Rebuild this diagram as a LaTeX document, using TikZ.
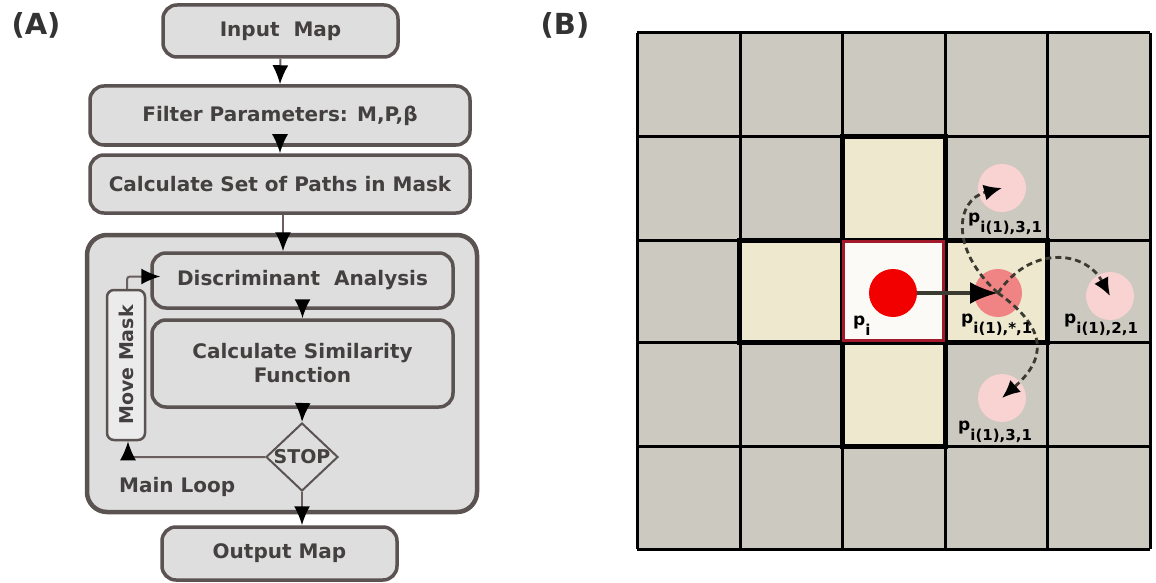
\documentclass[tikz,border=0pt]{standalone}
\usepackage{fontspec}
\setmainfont{DejaVu Sans}
\usetikzlibrary{arrows.meta,shapes.geometric,calc}
\definecolor{boxfill}{HTML}{DEDEDE}
\definecolor{boxline}{HTML}{5B5252}
\definecolor{boxtext}{HTML}{444040}
\definecolor{arrline}{HTML}{6A5E5E}
\definecolor{cellgray}{HTML}{CCC9C0}
\definecolor{cellbeige}{HTML}{EDE8CE}
\definecolor{cellwhite}{HTML}{FCFAF7}
\definecolor{redborder}{HTML}{A3192C}
\definecolor{dotred}{HTML}{F20000}
\definecolor{dotsalmon}{HTML}{F08484}
\definecolor{dotpink}{HTML}{F9D2D2}
\definecolor{dashcol}{HTML}{3A3A30}
\newcommand{\plab}[1]{{\fontsize{17}{17}\selectfont\bfseries p}\raisebox{-10pt}{\fontsize{15}{15}\selectfont\bfseries #1}}
\tikzset{
  flowbox/.style={draw=boxline, fill=boxfill, line width=3.5pt, rounded corners=14pt,
    text=boxtext, font=\fontsize{20}{24}\selectfont\bfseries, align=center, inner sep=0pt},
  flowarr/.style={draw=arrline, line width=2pt, -{Latex[length=19pt,width=16pt,color=black]}},
  lbl/.style={font=\fontsize{20}{24}\selectfont\bfseries, text=boxtext, inner sep=0pt},
  dot/.style={circle, inner sep=0pt, minimum size=48pt},
  dasharr/.style={draw=dashcol, line width=2.8pt, dash pattern=on 6pt off 4pt,
    -{Latex[length=18pt,width=16pt,color=black]}},
  plabel/.style={anchor=base west, inner sep=0pt, text=black}
}
\begin{document}
\begin{tikzpicture}[x=1pt,y=-1pt]
\useasboundingbox (0,0) rectangle (1156,583);
\fill[white] (0,0) rectangle (1156,583);

% ---------------- Panel A ----------------
\node[font=\fontsize{29}{30}\selectfont\bfseries, text=black!80] (labA) at (36,25) {(A)};
\node[font=\fontsize{29}{30}\selectfont\bfseries, text=black!80] (labB) at (565,25) {(B)};

\node[flowbox, minimum width=235pt, minimum height=52pt] (in) at (280.5,31) {Input\ \ Map};
\node[flowbox, minimum width=380pt, minimum height=59pt] (filter) at (280,115.5) {Filter Parameters: M,P,β};
\node[flowbox, minimum width=380pt, minimum height=58pt] (paths) at (280,184) {Calculate Set of Paths in Mask};
\node[flowbox, line width=4.5pt, rounded corners=20pt, minimum width=390pt, minimum height=277pt] (loop) at (282,373.5) {};
\node[flowbox, minimum width=301pt, minimum height=55pt] (disc) at (302.5,280.5) {Discriminant\ \ Analysis};
\node[flowbox, minimum width=301pt, minimum height=87pt] (sim) at (302.5,363.5) {Calculate Similarity\\Function};
\node[flowbox, fill=boxfill!60, line width=2.5pt, rounded corners=7pt, minimum width=38pt, minimum height=150pt] (mm) at (126,365) {};
\node[lbl, rotate=90, font=\fontsize{19}{20}\selectfont\bfseries] (mmtext) at (mm.center) {Move Mask};
\node[draw=boxline, fill=boxfill, line width=2pt, diamond, shape aspect=1.06, inner sep=0pt,
  minimum width=72pt, minimum height=68pt] (stop) at (302,457) {};
\node[lbl, font=\fontsize{19}{20}\selectfont\bfseries] (stoptext) at (stop.center) {STOP};
\node[lbl, anchor=west] (mainloop) at (119,487) {Main Loop};
\node[flowbox, minimum width=235pt, minimum height=53pt] (out) at (279.5,553.5) {Output Map};

\coordinate (pd) at ($(paths.south)+(3,0)$);
\coordinate (mmb) at ($(mm.south)+(2,0)$);
\coordinate (mmt) at ($(mm.north)+(1,0)$);
\coordinate (dw) at ($(disc.west)+(10,-4)$);
\draw[flowarr] (in.south) -- (filter.north);
\draw[flowarr] (filter.south) -- (paths.north);
\draw[flowarr] (pd) -- (pd |- disc.north);
\draw[flowarr] (disc.south) -- (sim.north);
\draw[flowarr] (sim.south) -- (stop.north);
\draw[flowarr] (stop.south) -- (stop.south |- out.north);
\draw[flowarr, rounded corners=3pt] (stop.west) -| (mmb);
\draw[flowarr, rounded corners=3pt] (mmt) |- (dw);

% ---------------- Panel B ----------------
\fill[cellgray] (637,33) rectangle (1150,549);
\foreach \x in {637,740,842,945,1047,1150} \draw[line width=3pt] (\x,33) -- (\x,549);
\foreach \y in {33,137,240,342,446,549} \draw[line width=3pt] (637,\y) -- (1150,\y);
\node[draw, line width=5pt, fill=cellbeige, minimum width=103pt, minimum height=104pt, inner sep=0pt] (cT) at (893.5,188.5) {};
\node[draw, line width=5pt, fill=cellbeige, minimum width=103pt, minimum height=102pt, inner sep=0pt] (cL) at (791,291) {};
\node[draw, line width=5pt, fill=cellbeige, minimum width=102pt, minimum height=102pt, inner sep=0pt] (cR) at (996,291) {};
\node[draw, line width=5pt, fill=cellbeige, minimum width=103pt, minimum height=104pt, inner sep=0pt] (cB) at (893.5,394) {};
\node[draw, line width=4pt, fill=cellwhite, minimum width=103pt, minimum height=102pt, inner sep=0pt] (cC) at (893.5,291) {};
\draw[redborder, line width=2.5pt] ($(cC.south west)+(3.5,-3.5)$) rectangle ($(cC.north east)+(-3.5,3.5)$);

\node[dot, fill=dotred] (pi) at (893,293) {};
\node[dot, fill=dotsalmon] (pst) at (998,293) {};
\node[dot, fill=dotpink] (ptop) at (1002,188) {};
\node[dot, fill=dotpink] (pright) at (1110,296) {};
\node[dot, fill=dotpink] (pbot) at (1002,398) {};

\draw[draw=dashcol, line width=4pt, -{Latex[length=28pt,width=22pt,color=black]}] (pi.east) -- (pst.center);
\draw[dasharr] (pst.center) .. controls (950,250) and (955,200) .. (ptop.center);
\draw[dasharr] (pst.center) .. controls (1030,245) and (1085,250) .. (pright.center);
\draw[dasharr] (pst.center) .. controls (1050,330) and (1045,360) .. (pbot.center);

\node[plabel] (lpi) at (853,325) {\plab{i}};
\node[plabel] (ltop) at (968,222) {\plab{i(1),3,1}};
\node[plabel] (lst) at (961,323) {\plab{i(1),*,1}};
\node[plabel] (lright) at (1064,323) {\plab{i(1),2,1}};
\node[plabel] (lbot) at (958,430) {\plab{i(1),3,1}};
\end{tikzpicture}
\end{document}
